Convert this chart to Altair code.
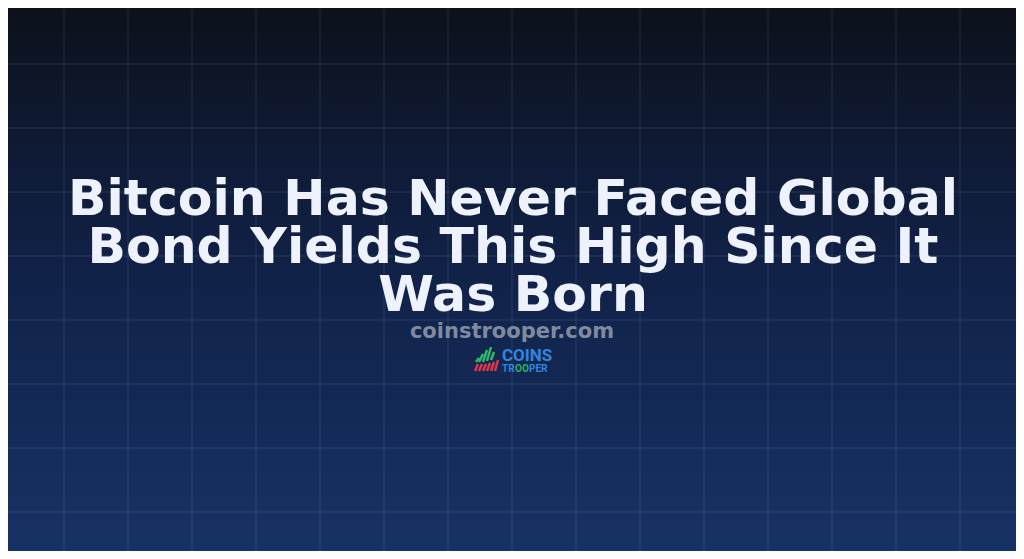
import altair as alt
import pandas as pd

# ---- text content ----
title_lines = ["Bitcoin Has Never Faced Global", "Bond Yields This High Since It", "Was Born"]
subtitle = "coinstrooper.com"
logo_words = ["COINS", "TR", "OO", "PER"]

# ---- layout (page pixel coordinates; chart starts at the 8px page margin) ----
W, H = 1008, 543
grid_x = [64 * i for i in range(1, 16)]
grid_y = [64 * i for i in range(1, 9)]

xs = alt.Scale(domain=[8, 8 + W], nice=False, zero=False)
ys = alt.Scale(domain=[8, 8 + H], nice=False, zero=False, reverse=True)


def X(v):
    return alt.X(datum=v, type="quantitative", scale=xs, axis=None)


def Y(v):
    return alt.Y(datum=v, type="quantitative", scale=ys, axis=None)


base = alt.Chart(pd.DataFrame({"a": [0]}))
layers = []

grad = alt.Gradient(gradient="linear", x1=0, y1=0, x2=0, y2=1,
                    stops=[alt.GradientStop(offset=0, color="#0c111c"),
                           alt.GradientStop(offset=0.5, color="#112249"),
                           alt.GradientStop(offset=1, color="#163264")])
layers.append(base.mark_rect(fill=grad, strokeWidth=0).encode(
    x=X(8), x2=alt.X2(datum=8 + W), y=Y(8), y2=alt.Y2(datum=8 + H)))

for gx in grid_x:
    layers.append(base.mark_rule(color="#8fa6d6", opacity=0.18, strokeWidth=1).encode(
        x=X(gx), y=Y(8), y2=alt.Y2(datum=8 + H)))
for gy in grid_y:
    layers.append(base.mark_rule(color="#8fa6d6", opacity=0.18, strokeWidth=1).encode(
        y=Y(gy), x=X(8), x2=alt.X2(datum=8 + W)))

baselines = [215, 263, 311]
FONT = "DejaVu Sans"
for line, b in zip(title_lines, baselines):
    layers.append(base.mark_text(font=FONT, fontSize=50.5, fontWeight="bold", align="center",
                                 baseline="alphabetic", color="#eef2fc").encode(
        x=X(513), y=Y(b), text=alt.value(line)))

layers.append(base.mark_text(font=FONT, fontSize=21, fontWeight="bold", align="center",
                             baseline="alphabetic", color="#7f8aa0").encode(
    x=X(512), y=Y(338), text=alt.value(subtitle)))

# ---- logo ----
layers.append(base.mark_text(font="Roboto", fontSize=17, fontWeight="bold", align="left",
                             baseline="alphabetic", color="#2f86e0").encode(
    x=X(502), y=Y(361), text=alt.value(logo_words[0])))
layers.append(base.mark_text(font="Roboto", fontSize=10, fontWeight="bold", align="left",
                             baseline="alphabetic", color="#2f86e0").encode(
    x=X(502), y=Y(372), text=alt.value(logo_words[1])))
layers.append(base.mark_text(font="Roboto", fontSize=10, fontWeight="bold", align="left",
                             baseline="alphabetic", color="#27b36a").encode(
    x=X(515), y=Y(372), text=alt.value(logo_words[2])))
layers.append(base.mark_text(font="Roboto", fontSize=10, fontWeight="bold", align="left",
                             baseline="alphabetic", color="#2f86e0").encode(
    x=X(529), y=Y(372), text=alt.value(logo_words[3])))

# icon: slanted green stripes (top) and red stripes (bottom)
green = [(476, 362, 479, 358), (479, 362, 483, 354), (483, 362, 487, 350), (487, 361, 491, 347), (491, 360, 494, 352)]
red = [(475, 371, 478, 364), (479, 371, 482, 364), (483, 371, 486, 364), (487, 371, 490, 363), (491, 371, 494, 362), (495, 371, 498, 360)]
for x0, y0, x1, y1 in green:
    layers.append(base.mark_rule(color="#2fb866", strokeWidth=2.5).encode(
        x=X(x0), y=Y(y0), x2=alt.X2(datum=x1), y2=alt.Y2(datum=y1)))
for x0, y0, x1, y1 in red:
    layers.append(base.mark_rule(color="#e2344a", strokeWidth=2.5).encode(
        x=X(x0), y=Y(y0), x2=alt.X2(datum=x1), y2=alt.Y2(datum=y1)))

chart = alt.layer(*layers).properties(
    width=W, height=H, padding=0,
    autosize=alt.AutoSizeParams(type="none"),
).configure_view(stroke=None, strokeWidth=0)

chart.save("out.html", embed_options={"renderer": "svg", "actions": False})
